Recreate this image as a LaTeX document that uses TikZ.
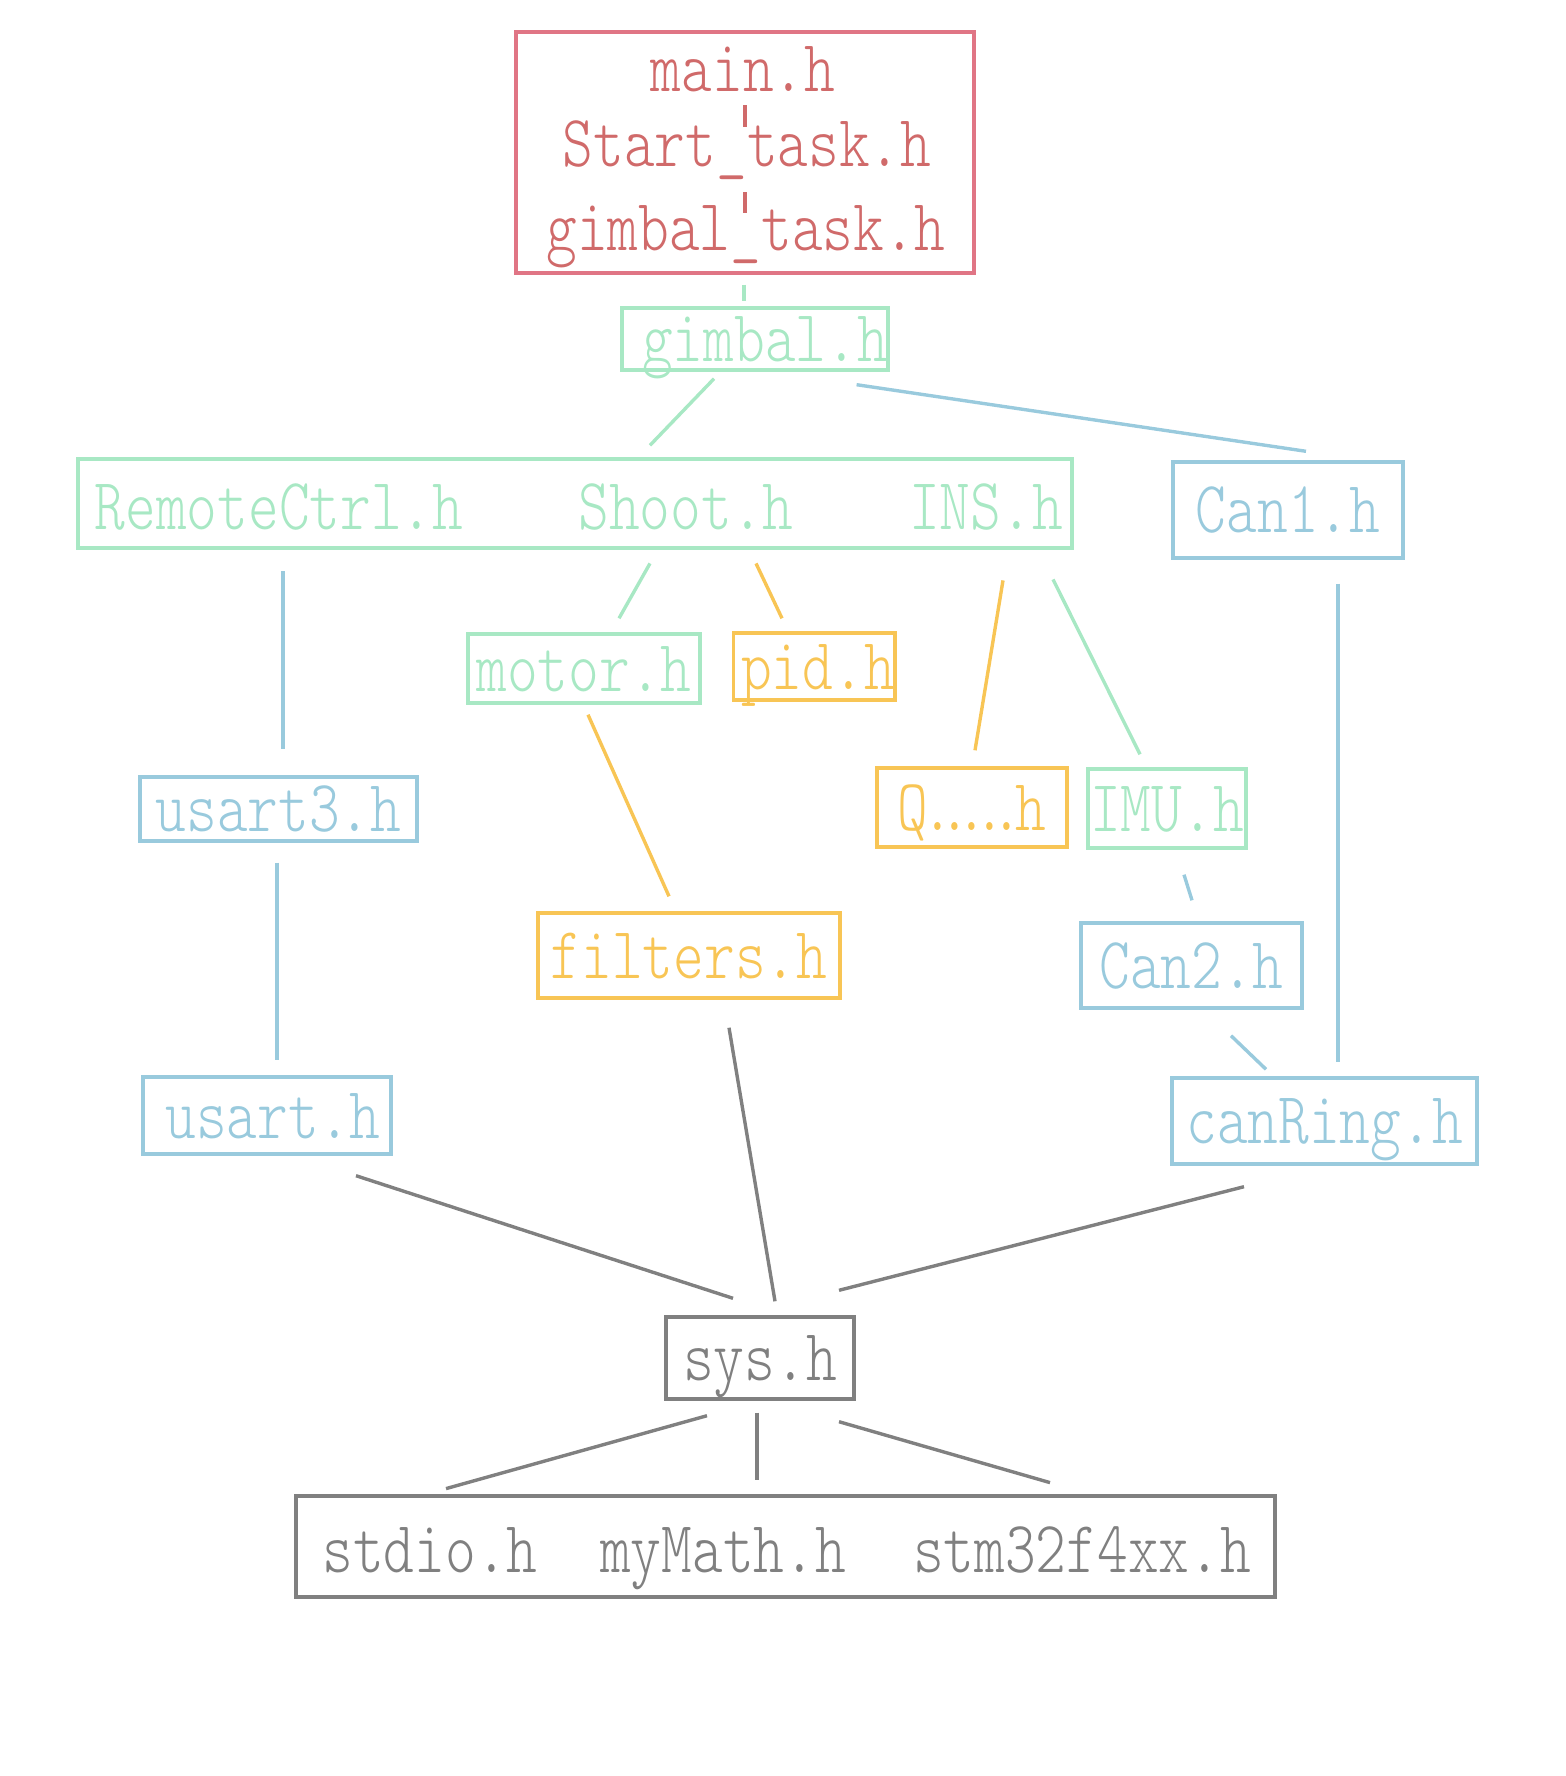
\documentclass[tikz,border=0pt]{standalone}
\usepackage{fontspec}
\usepackage{xcolor}
\usepackage{tikz}
\usetikzlibrary{positioning}
\newfontfamily\hfont{Latin Modern Mono Light}[FakeStretch=0.795]
\newcommand\qdot{\kern-6.7pt.}

\definecolor{redline}{HTML}{E07585}
\definecolor{redtext}{HTML}{D06A6A}
\definecolor{mint}{HTML}{A8E8C4}
\definecolor{skyblue}{HTML}{99CADD}
\definecolor{amber}{HTML}{F8C555}
\definecolor{slate}{HTML}{808080}

\begin{document}
\begin{tikzpicture}[x=0.5pt,y=-0.5pt,
  hdr/.style={font=\hfont\fontsize{36.8}{36.8}\selectfont,text height=22.5pt,text depth=0pt,inner sep=0pt},
  hbox/.style={hdr,draw=#1,text=#1,line width=1.7pt},
  link/.style={line width=1.7pt}]
  \useasboundingbox (0,0) rectangle (1566,1776);

  % top level
  \node[draw=redline,line width=1.7pt,minimum width=229pt,minimum height=120.5pt,inner sep=0pt] (topbox) at (745,152.5) {};
  \node[hdr,text=redtext,anchor=base] (mainh) at (743,92) {main.h};
  \node[hdr,text=redtext,anchor=base] (startt) at (747,167) {Start\_task.h};
  \node[hdr,text=redtext,anchor=base] (gimbalt) at (746,250) {gimbal\_task.h};
  \draw[link,redtext] ([shift={(2,13)}]mainh.south) -- ([shift={(-2,5)}]startt.north);
  \draw[link,redtext] ([shift={(-2,25)}]startt.south) -- ([shift={(-1,8)}]gimbalt.north);

  % headers
  \node[hbox=mint,minimum width=132pt,minimum height=31pt] (gimbal) at (755,339) {\kern10pt gimbal.h};
  \node[draw=mint,line width=1.7pt,minimum width=497pt,minimum height=44.5pt,inner sep=0pt] (group) at (575,503.5) {};
  \node[hdr,text=mint,anchor=base] (rctrl) at (279,529) {RemoteCtrl.h};
  \node[hdr,text=mint,anchor=base] (shoot) at (686,529) {Shoot.h};
  \node[hdr,text=mint,anchor=base] (ins) at (986,529) {INS.h};
  \node[hbox=skyblue,minimum width=115pt,minimum height=48pt] (can1) at (1288,510) {Can1.h};
  \node[hbox=mint,minimum width=116pt,minimum height=34.5pt] (motor) at (584,668.5) {motor.h};
  \node[hbox=amber,minimum width=80pt,minimum height=33.5pt] (pid) at (814,666.5) {\kern4pt pid.h};
  \node[hbox=skyblue,minimum width=138.5pt,minimum height=32pt] (usart3) at (278.5,809) {usart3.h};
  \node[hbox=amber,minimum width=95pt,minimum height=39.5pt] (qh) at (972,807.5) {Q\kern-3pt.\qdot\qdot\qdot\qdot\kern-3.2pt h};
  \node[hbox=mint,minimum width=79pt,minimum height=39.5pt] (imu) at (1167,808.5) {IMU.h};
  \node[hbox=amber,minimum width=151pt,minimum height=42.5pt] (filters) at (689,955.5) {filters.h};
  \node[hbox=skyblue,minimum width=110.5pt,minimum height=42.5pt] (can2) at (1191.5,965.5) {Can2.h};
  \node[hbox=skyblue,minimum width=124pt,minimum height=38.5pt] (usart) at (267,1115.5) {\kern6pt usart.h};
  \node[hbox=skyblue,minimum width=152.5pt,minimum height=43pt] (canring) at (1324.5,1121) {canRing.h};
  \node[hbox=slate,minimum width=94pt,minimum height=41pt] (sys) at (760,1358) {sys.h};
  \node[draw=slate,line width=1.7pt,minimum width=489.5pt,minimum height=50.5pt,inner sep=0pt] (base) at (785.5,1546.5) {};
  \node[hdr,text=slate,anchor=base] (stdio) at (430,1572) {stdio.h};
  \node[hdr,text=slate,anchor=base] (mymath) at (723,1572) {myMath.h};
  \node[hdr,text=slate,anchor=base] (stm) at (1082,1572) {stm32f4xx.h};

  % includes
  \draw[link,mint] ([shift={(-1,10)}]topbox.south) -- ([shift={(-11,-5)}]gimbal.north);
  \draw[link,mint] ([shift={(-41,7)}]gimbal.south) -- ([shift={(75,-12)}]group.north);
  \draw[link,skyblue] ([shift={(-33,13)}]gimbal.south east) -- ([shift={(18,-9)}]can1.north);
  \draw[link,skyblue] ([shift={(4,42)}]rctrl.south) -- ([shift={(4.5,-26)}]usart3.north);
  \draw[link,mint] ([shift={(-36,34)}]shoot.south) -- ([shift={(35,-14)}]motor.north);
  \draw[link,amber] ([shift={(70,34)}]shoot.south) -- ([shift={(-32,-13)}]pid.north);
  \draw[link,amber] ([shift={(17,51)}]ins.south) -- ([shift={(3,-16)}]qh.north);
  \draw[link,mint] ([shift={(67,50)}]ins.south) -- ([shift={(-27,-13)}]imu.north);
  \draw[link,skyblue] ([shift={(50,24)}]can1.south) -- ([shift={(13.5,-14)}]canring.north);
  \draw[link,skyblue] ([shift={(-1.5,20)}]usart3.south) -- ([shift={(10,-15)}]usart.north);
  \draw[link,amber] ([shift={(4,10)}]motor.south) -- ([shift={(-20,-15)}]filters.north);
  \draw[link,skyblue] ([shift={(17,25)}]imu.south) -- ([shift={(0.5,-21)}]can2.north);
  \draw[link,skyblue] ([shift={(39.5,26)}]can2.south) -- ([shift={(-58.5,-7)}]canring.north);
  \draw[link,slate] ([shift={(89,20)}]usart.south) -- ([shift={(-27,-17)}]sys.north);
  \draw[link,slate] ([shift={(40,28)}]filters.south) -- ([shift={(15,-14)}]sys.north);
  \draw[link,slate] ([shift={(-80.5,21)}]canring.south) -- ([shift={(79,-25)}]sys.north);
  \draw[link,slate] ([shift={(-53,15)}]sys.south) -- ([shift={(16,-38)}]stdio.north);
  \draw[link,slate] ([shift={(-3,12)}]sys.south) -- ([shift={(34,-47)}]mymath.north);
  \draw[link,slate] ([shift={(79,21)}]sys.south) -- ([shift={(-32,-44)}]stm.north);
\end{tikzpicture}
\end{document}
